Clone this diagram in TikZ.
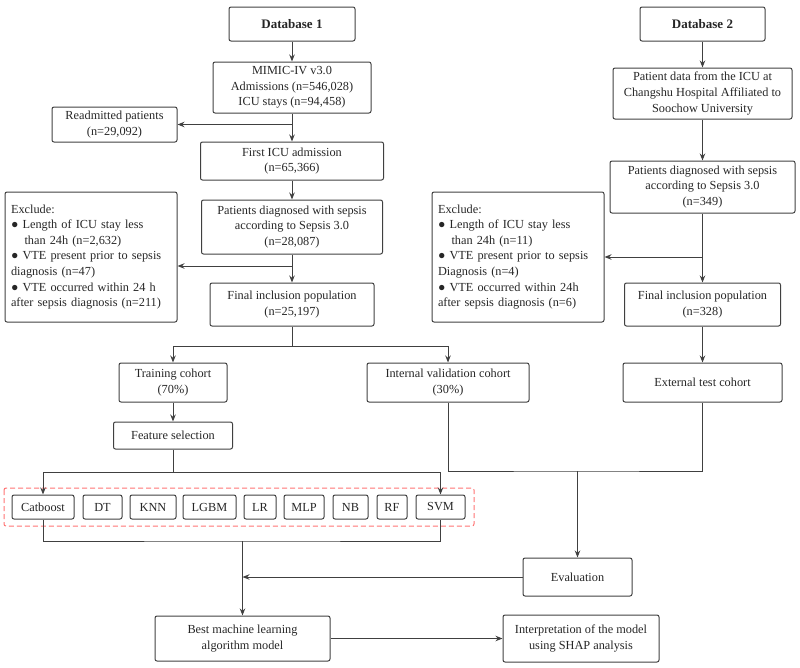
\documentclass[tikz,border=0pt]{standalone}
\usepackage{fontspec}
\setmainfont{Liberation Serif}
\usetikzlibrary{arrows.meta,positioning}

\begin{document}
\begin{tikzpicture}[x=1pt, y=-1pt,
    font=\fontsize{12.3}{15.6}\selectfont,
    box/.style={draw=black!75, line width=1pt, rounded corners=2pt, align=center, inner sep=0pt, text=black!85},
    exclbox/.style={box, align=left, text width=160pt, inner xsep=6pt, minimum height=130pt},
    arr/.style={-{Stealth[length=7pt,width=5.5pt]}, draw=black!75, line width=1pt},
    link/.style={draw=black!75, line width=1pt}]
    \useasboundingbox (0,0) rectangle (800,667);

    % Database 1
    \node[box, minimum width=126, minimum height=34, font=\fontsize{13}{15.6}\selectfont\bfseries] (db1) at (292,24) {Database 1};
    \node[box, minimum width=158, minimum height=51] (mimic) at (292,87.5) {MIMIC-IV v3.0\\Admissions (n=546,028)\\ICU stays (n=94,458)};
    \node[box, minimum width=125, minimum height=35] (readm) at (114.5,124.5) {Readmitted patients\\(n=29,092)};
    \node[box, minimum width=183, minimum height=38] (first) at (292,161) {First ICU admission\\(n=65,366)};
    \node[box, minimum width=181, minimum height=54] (sepsis1) at (292,227) {Patients diagnosed with sepsis\\according to Sepsis 3.0\\(n=28,087)};
    \node[exclbox] (excl1) at (91,257) {Exclude:\\● Length of ICU stay less\\\hspace*{1.1em}than 24h (n=2,632)\\● VTE present prior to sepsis\\diagnosis (n=47)\\● VTE occurred within 24 h\\after sepsis diagnosis (n=211)};
    \node[box, minimum width=164, minimum height=43] (final1) at (292,304.5) {Final inclusion population\\(n=25,197)};

    % Database 2
    \node[box, minimum width=125, minimum height=34, font=\fontsize{13}{15.6}\selectfont\bfseries] (db2) at (702.5,24) {Database 2};
    \node[box, minimum width=179, minimum height=51] (pdata) at (702.5,93.5) {Patient data from the ICU at\\Changshu Hospital Affiliated to\\Soochow University};
    \node[box, minimum width=185, minimum height=52] (sepsis2) at (702.5,187) {Patients diagnosed with sepsis\\according to Sepsis 3.0\\(n=349)};
    \node[exclbox] (excl2) at (518,257) {Exclude:\\● Length of ICU stay less\\\hspace*{1.1em}than 24h (n=11)\\● VTE present prior to sepsis\\Diagnosis (n=4)\\● VTE occurred within 24h\\after sepsis diagnosis (n=6)};
    \node[box, minimum width=156, minimum height=43] (final2) at (702.5,304.5) {Final inclusion population\\(n=328)};

    % Cohorts
    \node[box, minimum width=108, minimum height=39] (train) at (173,382.5) {Training cohort\\(70\%)};
    \node[box, minimum width=162, minimum height=39] (inval) at (448,382.5) {Internal validation cohort\\(30\%)};
    \node[box, minimum width=159, minimum height=39] (ext) at (702.5,382.5) {External test cohort};
    \node[box, minimum width=119, minimum height=27] (feat) at (173,435.5) {Feature selection};

    % Models
    \draw[red!55, dash pattern=on 5pt off 3pt, line width=1pt, rounded corners=2pt] (4,488) rectangle (474,526);
    \foreach \name/\cx/\w in {Catboost/43/62, DT/102.5/39, KNN/153/46, LGBM/209.5/53, LR/260/32, MLP/304/40, NB/350.5/35, RF/392/30, SVM/440.5/49}
        \node[box, minimum width=\w, minimum height=24] (m\name) at (\cx,507) {\name};

    \node[box, minimum width=109, minimum height=38] (eval) at (577.5,577) {Evaluation};
    \node[box, minimum width=175, minimum height=45] (best) at (242.5,638.5) {Best machine learning\\algorithm model};
    \node[box, minimum width=156, minimum height=47] (interp) at (581,638.5) {Interpretation of the model\\using SHAP analysis};

    % Connectors, database 1
    \draw[arr] (db1) -- (mimic);
    \draw[arr] (mimic) -- (first);
    \draw[arr] (mimic.south |- readm.east) -- (readm.east);
    \draw[arr] (first) -- (sepsis1);
    \draw[arr] (sepsis1.south) -- (final1.north);
    \draw[arr] (sepsis1.south |- 0,266) -- (excl1.east |- 0,266);

    % Connectors, database 2
    \draw[arr] (db2) -- (pdata);
    \draw[arr] (pdata) -- (sepsis2);
    \draw[arr] (sepsis2.south) -- (final2.north);
    \draw[arr] (sepsis2.south |- 0,257) -- (excl2.east |- 0,257);
    \draw[arr] (final2) -- (ext);

    % Split and model training
    \coordinate (split) at (final1.south |- 0,346);
    \draw[link] (final1.south) -- (split);
    \draw[arr] (split) -| (train.north);
    \draw[arr] (split) -| (inval.north);
    \draw[arr] (train) -- (feat);
    \coordinate (fan) at (feat.south |- 0,472);
    \draw[link] (feat.south) -- (fan);
    \draw[arr] (fan) -| (mCatboost.north);
    \draw[arr] (fan) -| (mSVM.north);
    \coordinate (join) at (best.north |- 0,541);
    \draw[link] (mCatboost.south) |- (join) -| (mSVM.south);
    \draw[arr] (join) -- (best.north);

    % Evaluation
    \coordinate (evjoin) at (eval.north |- 0,471);
    \draw[link] (inval.south) |- (evjoin) -| (ext.south);
    \draw[arr] (evjoin) -- (eval.north);
    \draw[arr] (eval.west) -- (eval.west -| join);
    \draw[arr] (best) -- (interp);
\end{tikzpicture}
\end{document}
